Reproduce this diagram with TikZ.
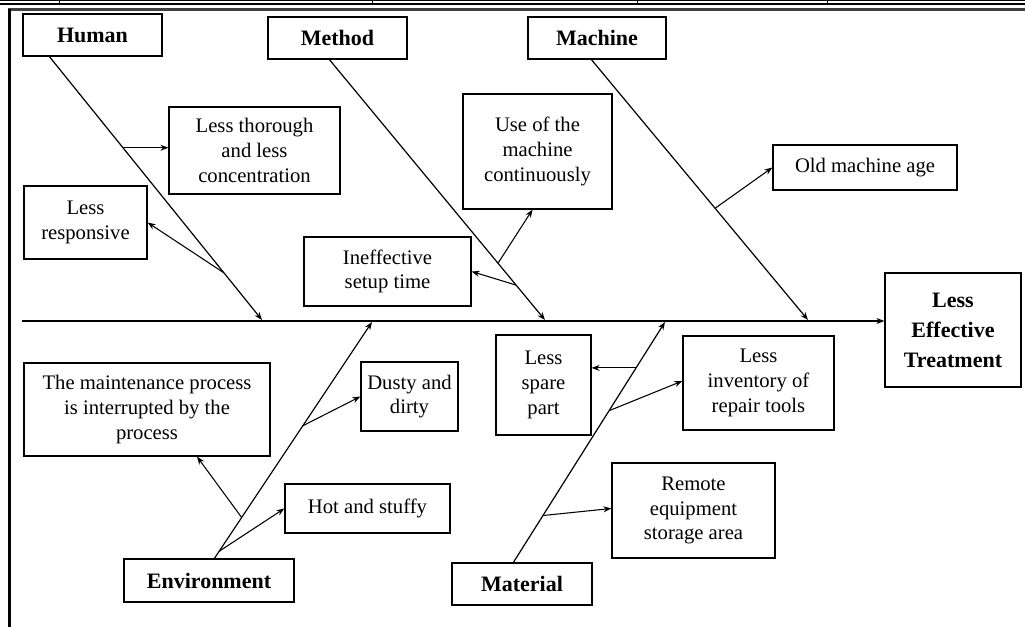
\documentclass[tikz,border=0pt]{standalone}
\usepackage{fontspec}
\setmainfont{Liberation Serif}
\usetikzlibrary{arrows.meta,calc}
\begin{document}
\begin{tikzpicture}[x=0.75pt,y=-0.75pt,
  box/.style={draw, line width=0.9pt, align=center, inner sep=0pt, fill=white,
    font=\fontsize{15.5}{18.5}\selectfont},
  hd/.style={box, font=\bfseries\fontsize{16.5}{22.5}\selectfont},
  sz/.style 2 args={minimum width=#1*0.75pt, minimum height=#2*0.75pt},
  bone/.style={line width=0.9pt, -{Stealth[length=6pt,width=4.5pt]}},
  arr/.style={line width=0.8pt, -{Stealth[length=6pt,width=4.5pt]}}]
\useasboundingbox (0,0) rectangle (1025,627);
% page decorations
\draw[line width=0.75pt] (0,0.5) -- (1025,0.5);
\foreach \x in {59,372,637,827} \draw[line width=0.75pt] (\x,0) -- (\x,3);
\draw[line width=1.5pt] (0,4) -- (1025,4);
\draw[black!75, line width=1.8pt] (8,9.5) -- (1025,9.5);
\draw[line width=2.6pt] (9.5,8.6) -- (9.5,627);
% category boxes
\node[hd, sz={139}{42}] (human) at (92.5,35) {Human};
\node[hd, sz={139}{42}] (method) at (337.5,38) {Method};
\node[hd, sz={138}{42}] (machine) at (597,38) {Machine};
\node[hd, sz={170}{43}] (env) at (209,580.5) {Environment};
\node[hd, sz={140}{42}] (material) at (522,584) {Material};
\node[hd, sz={136}{114}] (result) at (953,330) {Less\\Effective\\Treatment};
% cause boxes
\node[box, sz={171}{87}] (thorough) at (254.5,150.5) {Less thorough\\and less\\concentration};
\node[box, sz={123}{73}] (responsive) at (85.5,222.5) {Less\\responsive};
\node[box, sz={167}{69}] (ineff) at (387.5,271.5) {Ineffective\\setup time};
\node[box, sz={149}{115}] (usem) at (537.5,151.5) {Use of the\\machine\\continuously};
\node[box, sz={184}{45}] (old) at (865,167.5) {Old machine age};
\node[box, sz={95}{100}] (spare) at (543.5,385) {Less\\spare\\part};
\node[box, sz={151}{94}] (invent) at (758.5,383) {Less\\inventory of\\repair tools};
\node[box, sz={246}{93}] (maint) at (147,409.5) {The maintenance process\\is interrupted by the\\process};
\node[box, sz={97}{69}] (dusty) at (409.5,396.5) {Dusty and\\dirty};
\node[box, sz={165}{49}] (hot) at (367.5,508.5) {Hot and stuffy};
\node[box, sz={163}{95}] (remote) at (693.5,510.5) {Remote\\equipment\\storage area};
% spine
\coordinate (sL) at (22,321);
\draw[bone] (sL) -- (sL -| result.west);
% bone ends
\coordinate (hs) at ($(human.south west)+(27,0)$);
\coordinate (he) at (262,320);
\coordinate (ms) at ($(method.south west)+(62,0)$);
\coordinate (me) at (545,320);
\coordinate (cs) at ($(machine.south west)+(64,0)$);
\coordinate (ce) at (808,320);
\coordinate (es) at ($(env.north west)+(91,0)$);
\coordinate (ee) at (372,322);
\coordinate (ts) at ($(material.north west)+(62,0)$);
\coordinate (te) at (665,322);
\draw[bone] (hs) -- (he);
\draw[bone] (ms) -- (me);
\draw[bone] (cs) -- (ce);
\draw[bone] (es) -- (ee);
\draw[bone] (ts) -- (te);
% branch points
\coordinate (h1) at ($(hs)!0.346!(he)$);
\coordinate (h2) at ($(hs)!0.821!(he)$);
\coordinate (m1) at ($(ms)!0.866!(me)$);
\coordinate (m2) at ($(ms)!0.782!(me)$);
\coordinate (c1) at ($(cs)!0.571!(ce)$);
\coordinate (e1) at ($(es)!0.561!(ee)$);
\coordinate (e2) at ($(es)!0.173!(ee)$);
\coordinate (e3) at ($(es)!0.03!(ee)$);
\coordinate (t1) at ($(ts)!0.809!(te)$);
\coordinate (t2) at ($(ts)!0.631!(te)$);
\coordinate (t3) at ($(ts)!0.195!(te)$);
% sub-cause arrows
\draw[arr] (h1) -- (h1 -| thorough.west);
\draw[arr] (h2) -- (responsive.east);
\draw[arr] (m1) -- (ineff.east);
\draw[arr] (m2) -- ($(usem.south)+(-5,0)$);
\draw[arr] (c1) -- (old.west);
\draw[arr] (e1) -- (dusty.west);
\draw[arr] (e2) -- ($(maint.south)+(50,0)$);
\draw[arr] (e3) -- (hot.west);
\draw[arr] (t1) -- (t1 -| spare.east);
\draw[arr] (t2) -- ($(invent.west)+(0,-2)$);
\draw[arr] (t3) -- ($(remote.west)+(0,-2)$);
\end{tikzpicture}
\end{document}
